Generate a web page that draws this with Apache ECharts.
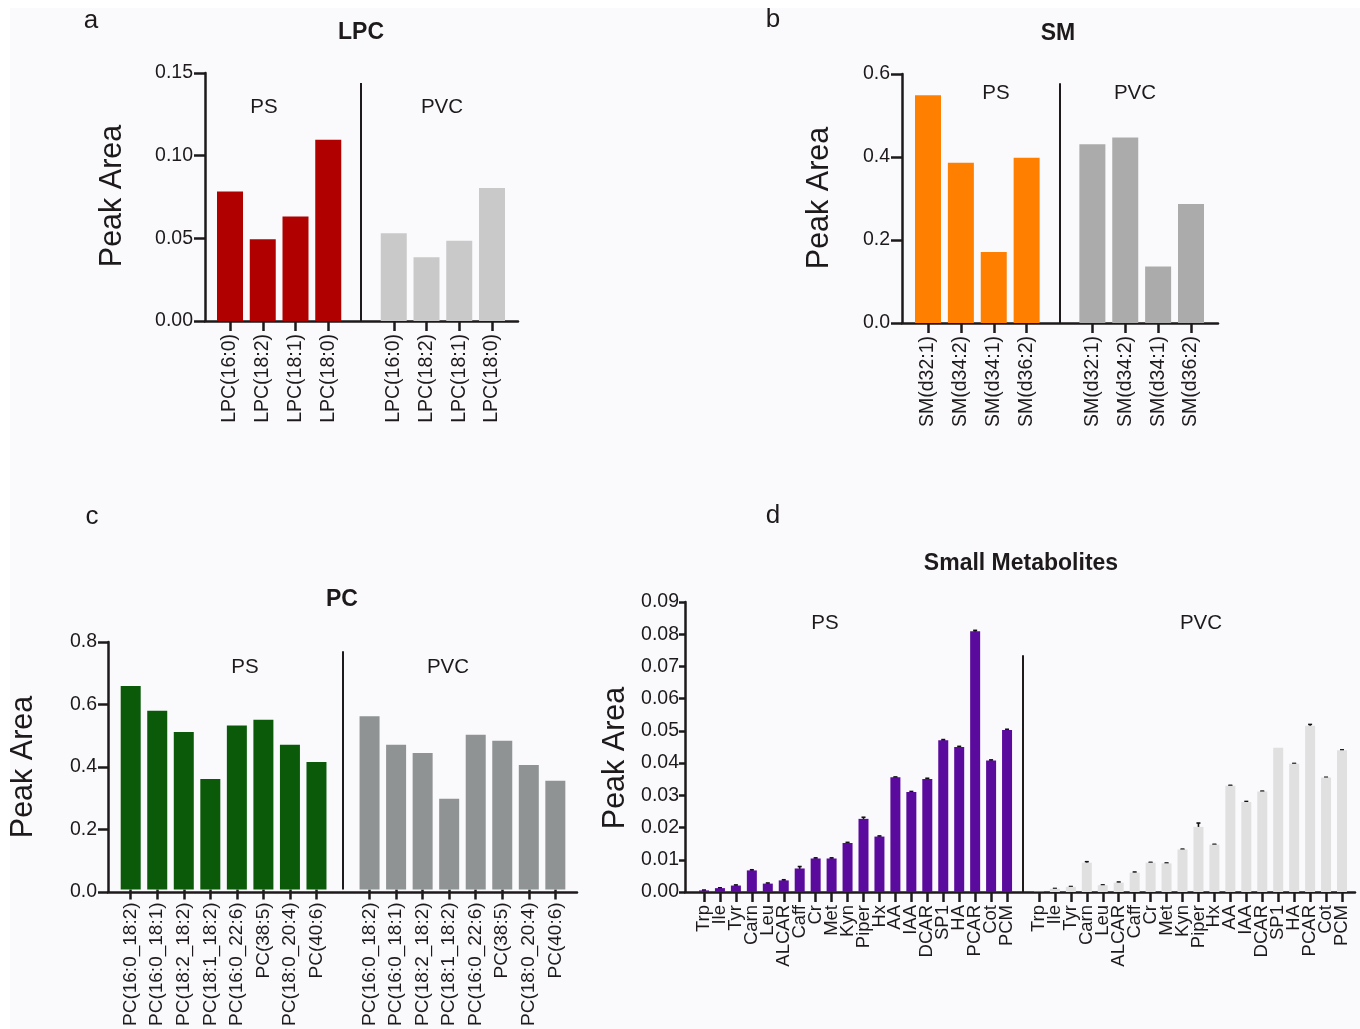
<!DOCTYPE html>
<html>
<head>
<meta charset="utf-8">
<script src="https://cdn.jsdelivr.net/npm/echarts@6/dist/echarts.min.js"></script>
<style>
  html, body { margin: 0; padding: 0; background: #ffffff; }
  #main { position: absolute; left: 10px; top: 8px; width: 1350px; height: 1021px; }
</style>
</head>
<body>
<div id="main"></div>
<script>
// panel a - LPC
const lpcCats = ['LPC(16:0)', 'LPC(18:2)', 'LPC(18:1)', 'LPC(18:0)'];
const lpcPS = [0.0783, 0.0495, 0.0632, 0.1096];
const lpcPVC = [0.0531, 0.0386, 0.0485, 0.0804];
// panel b - SM
const smCats = ['SM(d32:1)', 'SM(d34:2)', 'SM(d34:1)', 'SM(d36:2)'];
const smPS = [0.549, 0.386, 0.171, 0.398];
const smPVC = [0.431, 0.447, 0.136, 0.287];
// panel c - PC
const pcCats = ['PC(16:0_18:2)', 'PC(16:0_18:1)', 'PC(18:2_18:2)', 'PC(18:1_18:2)',
  'PC(16:0_22:6)', 'PC(38:5)', 'PC(18:0_20:4)', 'PC(40:6)'];
const pcPS = [0.658, 0.578, 0.509, 0.357, 0.530, 0.549, 0.468, 0.412];
const pcPVC = [0.560, 0.468, 0.441, 0.293, 0.500, 0.481, 0.402, 0.351];
// panel d - small metabolites (mean + error)
const smallCats = ['Trp', 'Ile', 'Tyr', 'Carn', 'Leu', 'ALCAR', 'Caff', 'Cr', 'Met', 'Kyn',
  'Piper', 'Hx', 'AA', 'IAA', 'DCAR', 'SP1', 'HA', 'PCAR', 'Cot', 'PCM'];
const smallPS = [0.0005, 0.0012, 0.0020, 0.0067, 0.0026, 0.0036, 0.0073, 0.0104, 0.0104, 0.0152,
  0.0227, 0.0172, 0.0356, 0.0310, 0.0351, 0.0471, 0.0450, 0.0809, 0.0408, 0.0503];
const smallPSErr = [0.0001, 0.0001, 0.0002, 0.0002, 0.0002, 0.0002, 0.0006, 0.0002, 0.0002, 0.0002,
  0.0005, 0.0002, 0.0001, 0.0002, 0.0002, 0.0002, 0.0002, 0.0003, 0.0002, 0.0002];
const smallPVC = [0.0001, 0.0010, 0.0016, 0.0091, 0.0021, 0.0029, 0.0060, 0.0091, 0.0089, 0.0132,
  0.0202, 0.0147, 0.0330, 0.0279, 0.0312, 0.0448, 0.0398, 0.0516, 0.0355, 0.0440];
const smallPVCErr = [0, 0.0001, 0.0001, 0.0003, 0.0001, 0.0002, 0.0002, 0.0001, 0.0001, 0.0001,
  0.0012, 0.0001, 0.0001, 0.0002, 0.0001, 0, 0.0001, 0.0004, 0.0001, 0.0001];

const OX = 10, OY = 8;
const INK = '#1e1a1b';
const FONT = '"Liberation Sans", Arial, sans-serif';

const grids = [], xAxes = [], yAxes = [], series = [], graphics = [];

function txt(x, y, text, size, opts) {
  opts = opts || {};
  graphics.push({
    type: 'text', x: x - OX, y: y - OY, rotation: opts.rot || 0, silent: true,
    style: {
      text: text, fill: INK, fontSize: size, fontFamily: FONT,
      fontWeight: opts.bold ? 'bold' : 'normal',
      align: 'center', verticalAlign: 'middle',
      textAlign: 'center', textVerticalAlign: 'middle'
    }
  });
}

function addPanel(p) {
  const line = { color: INK, width: 2.5 };
  const h = p.y0 - p.yTop;
  // base grid: both axis lines + y ticks
  const gBase = grids.length;
  grids.push({ left: p.axisX - OX, top: p.yTop - OY, width: p.axisEnd - p.axisX, height: h });
  xAxes.push({
    gridIndex: gBase, type: 'value', min: 0, max: 1,
    axisLine: { show: true, onZero: false, lineStyle: line },
    axisTick: { show: false }, axisLabel: { show: false }, splitLine: { show: false }
  });
  yAxes.push({
    gridIndex: gBase, type: 'value', min: 0, max: p.max, interval: p.interval,
    axisLine: { show: true, onZero: false, lineStyle: line },
    axisTick: { show: true, length: p.yTick, lineStyle: line },
    axisLabel: {
      color: INK, fontSize: 19.5, fontFamily: FONT, margin: p.yMargin,
      formatter: v => v.toFixed(p.dec)
    },
    splitLine: { show: false }
  });
  // bar grid: categories PS | gap | PVC
  const gBar = grids.length;
  const cats = p.cats.concat([''], p.cats);
  grids.push({ left: p.firstC - p.step / 2 - OX, top: p.yTop - OY, width: p.step * cats.length, height: h });
  xAxes.push({
    gridIndex: gBar, type: 'category', data: cats,
    axisLine: { show: false },
    axisTick: { show: true, alignWithLabel: true, length: 10, lineStyle: line, interval: (i, v) => v !== '' },
    axisLabel: { interval: 0, rotate: 90, color: INK, fontSize: p.xFont, fontFamily: FONT, margin: 13 }
  });
  yAxes.push({ gridIndex: gBar, type: 'value', min: 0, max: p.max, show: false });
  const xi = xAxes.length - 1, yi = yAxes.length - 1;
  const data = p.ps.map(v => ({ value: v, itemStyle: { color: p.psColor } }))
    .concat([null], p.pvc.map(v => ({ value: v, itemStyle: { color: p.pvcColor } })));
  series.push({
    type: 'bar', xAxisIndex: xi, yAxisIndex: yi, data: data, barWidth: p.barW,
    markLine: {
      silent: true, symbol: 'none', label: { show: false },
      lineStyle: { color: INK, width: 2, type: 'solid' },
      data: [[{ coord: [p.cats.length, 0] }, { coord: [p.cats.length, p.sepTop] }]]
    }
  });
  if (p.psErr) {
    const errData = p.ps.map((v, i) => [i, v, p.psErr[i]])
      .concat(p.pvc.map((v, i) => [i + p.cats.length + 1, v, p.pvcErr[i]]));
    series.push({
      type: 'custom', xAxisIndex: xi, yAxisIndex: yi, data: errData, silent: true,
      encode: { x: 0, y: 1 },
      renderItem: (params, api) => {
        const e = api.value(2);
        if (!e) return null;
        const hi = api.coord([api.value(0), api.value(1) + e]);
        const lo = api.coord([api.value(0), api.value(1) - e]);
        const st = { stroke: '#111', lineWidth: 1.6 };
        return {
          type: 'group', children: [
            { type: 'line', shape: { x1: hi[0], y1: hi[1], x2: lo[0], y2: lo[1] }, style: st },
            { type: 'line', shape: { x1: hi[0] - 2, y1: hi[1], x2: hi[0] + 2, y2: hi[1] }, style: st },
            { type: 'line', shape: { x1: lo[0] - 2, y1: lo[1], x2: lo[0] + 2, y2: lo[1] }, style: st }
          ]
        };
      }
    });
  }
}

addPanel({
  cats: lpcCats, ps: lpcPS, pvc: lpcPVC, psColor: '#b00000', pvcColor: '#c9c9c9',
  axisX: 205, axisEnd: 518, yTop: 73, y0: 321, max: 0.15, interval: 0.05, dec: 2,
  firstC: 230, step: 32.75, barW: 26, sepTop: 0.144, yTick: 11, yMargin: 12, xFont: 19.5
});
addPanel({
  cats: smCats, ps: smPS, pvc: smPVC, psColor: '#ff7f00', pvcColor: '#ababab',
  axisX: 902, axisEnd: 1218, yTop: 74, y0: 323, max: 0.6, interval: 0.2, dec: 1,
  firstC: 928, step: 32.875, barW: 26, sepTop: 0.578, yTick: 11, yMargin: 12, xFont: 19.5
});
addPanel({
  cats: pcCats, ps: pcPS, pvc: pcPVC, psColor: '#0a5a0a', pvcColor: '#8f9393',
  axisX: 108, axisEnd: 577, yTop: 642, y0: 892, max: 0.8, interval: 0.2, dec: 1,
  firstC: 130.7, step: 26.54, barW: 20, sepTop: 0.77, yTick: 10, yMargin: 11, xFont: 19
});
addPanel({
  cats: smallCats, ps: smallPS, pvc: smallPVC, psErr: smallPSErr, pvcErr: smallPVCErr,
  psColor: '#5a0a9c', pvcColor: '#e0e0e0',
  axisX: 685, axisEnd: 1355, yTop: 602, y0: 892, max: 0.09, interval: 0.01, dec: 2,
  firstC: 704, step: 15.95, barW: 10, sepTop: 0.0735, yTick: 6, yMargin: 6, xFont: 18.5
});

// panel letters, titles, group labels, y names
txt(91, 21, 'a', 26); txt(773, 20, 'b', 26); txt(92, 517, 'c', 26); txt(773, 516, 'd', 26);
txt(361, 33, 'LPC', 23, { bold: true });
txt(1058, 34, 'SM', 23, { bold: true });
txt(342, 600, 'PC', 23, { bold: true });
txt(1021, 564, 'Small Metabolites', 23, { bold: true });
txt(264, 107, 'PS', 20.5); txt(442, 107, 'PVC', 20.5);
txt(996, 93, 'PS', 20.5); txt(1135, 93, 'PVC', 20.5);
txt(245, 667, 'PS', 20.5); txt(448, 667, 'PVC', 20.5);
txt(825, 623, 'PS', 20.5); txt(1201, 623, 'PVC', 20.5);
txt(113, 196, 'Peak Area', 30.5, { rot: Math.PI / 2 });
txt(820, 198, 'Peak Area', 30.5, { rot: Math.PI / 2 });
txt(24, 767, 'Peak Area', 30.5, { rot: Math.PI / 2 });
txt(616, 758, 'Peak Area', 30.5, { rot: Math.PI / 2 });

const chart = echarts.init(document.getElementById('main'), null, { renderer: 'canvas' });
chart.setOption({
  backgroundColor: '#fafafd',
  animation: false,
  textStyle: { fontFamily: FONT },
  grid: grids,
  xAxis: xAxes,
  yAxis: yAxes,
  series: series,
  graphic: graphics
});
</script>
</body>
</html>
